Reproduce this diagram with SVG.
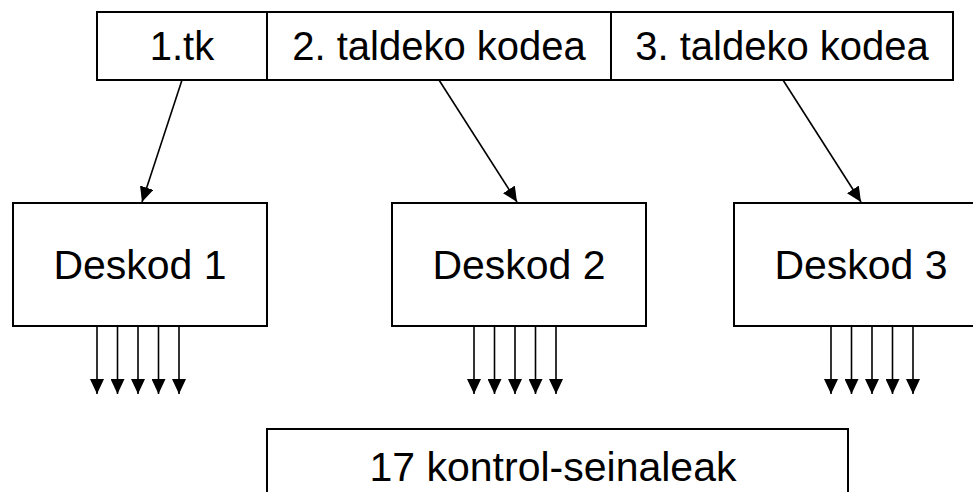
<svg xmlns="http://www.w3.org/2000/svg" width="973" height="492" viewBox="0 0 973 492">
  <style>
    .box { fill: #fff; stroke: #000; stroke-width: 2; }
    .lbl { font-family: "Liberation Sans", Arial, sans-serif; fill: #000; text-anchor: middle; }
    .wire { stroke: #000; stroke-width: 1.6; fill: none; marker-end: url(#head); }
  </style>
  <defs>
    <marker id="head" markerUnits="userSpaceOnUse" markerWidth="15" markerHeight="14" refX="15" refY="7" orient="auto">
      <path d="M0,0 L15,7 L0,14 z" fill="#000"/>
    </marker>
  </defs>
  <rect width="973" height="492" fill="#fff"/>

  <!-- instruction code fields -->
  <g id="field-1">
    <rect class="box" x="97" y="12" width="170" height="68"/>
    <text class="lbl" x="182" y="60" font-size="40">1.tk</text>
  </g>
  <g id="field-2">
    <rect class="box" x="267" y="12" width="344" height="68"/>
    <text class="lbl" x="439" y="60" font-size="40">2. taldeko kodea</text>
  </g>
  <g id="field-3">
    <rect class="box" x="611" y="12" width="342" height="68"/>
    <text class="lbl" x="782" y="60" font-size="40">3. taldeko kodea</text>
  </g>

  <!-- decoders -->
  <g id="deskod-1">
    <rect class="box" x="13" y="203" width="254" height="123"/>
    <text class="lbl" x="140" y="279" font-size="41">Deskod 1</text>
  </g>
  <g id="deskod-2">
    <rect class="box" x="392" y="203" width="254" height="123"/>
    <text class="lbl" x="519" y="279" font-size="41">Deskod 2</text>
  </g>
  <g id="deskod-3">
    <rect class="box" x="734" y="203" width="254" height="123"/>
    <text class="lbl" x="861" y="279" font-size="41">Deskod 3</text>
  </g>

  <!-- control signal summary -->
  <g id="signals">
    <rect class="box" x="267" y="429" width="581" height="80"/>
    <text class="lbl" x="553" y="481" font-size="41">17 kontrol-seinaleak</text>
  </g>

  <g id="connectors">
    <line class="wire" x1="182" y1="80" x2="142" y2="202"/>
    <line class="wire" x1="439" y1="80" x2="517" y2="202"/>
    <line class="wire" x1="783" y1="80" x2="861" y2="202"/>

    <line class="wire" x1="97" y1="326" x2="97" y2="394"/>
    <line class="wire" x1="117.5" y1="326" x2="117.5" y2="394"/>
    <line class="wire" x1="138" y1="326" x2="138" y2="394"/>
    <line class="wire" x1="158.5" y1="326" x2="158.5" y2="394"/>
    <line class="wire" x1="179" y1="326" x2="179" y2="394"/>

    <line class="wire" x1="474" y1="326" x2="474" y2="394"/>
    <line class="wire" x1="494.5" y1="326" x2="494.5" y2="394"/>
    <line class="wire" x1="515" y1="326" x2="515" y2="394"/>
    <line class="wire" x1="535.5" y1="326" x2="535.5" y2="394"/>
    <line class="wire" x1="556" y1="326" x2="556" y2="394"/>

    <line class="wire" x1="831" y1="326" x2="831" y2="394"/>
    <line class="wire" x1="851.5" y1="326" x2="851.5" y2="394"/>
    <line class="wire" x1="872" y1="326" x2="872" y2="394"/>
    <line class="wire" x1="892.5" y1="326" x2="892.5" y2="394"/>
    <line class="wire" x1="913" y1="326" x2="913" y2="394"/>
  </g>
</svg>
